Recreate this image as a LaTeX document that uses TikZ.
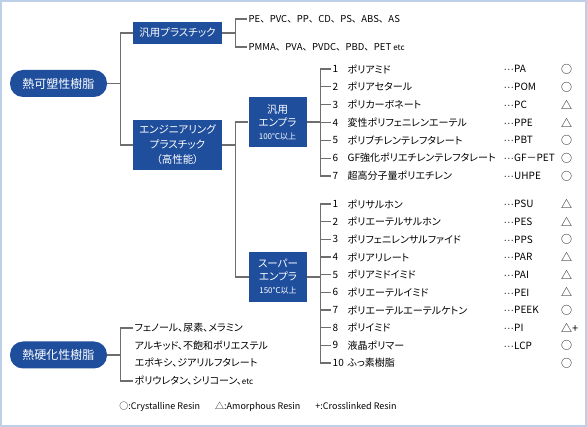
\documentclass[tikz,border=0pt]{standalone}
\usepackage{fontspec}
\setmainfont{Noto Sans CJK JP}[RawFeature=+palt]
\newfontfamily\fullw{Noto Sans CJK JP}
\usetikzlibrary{positioning}
\definecolor{boxblue}{RGB}{31,78,157}
\definecolor{linegray}{RGB}{110,110,110}
\definecolor{frameblue}{RGB}{190,208,232}
\tikzset{
  rootbox/.style={fill=boxblue, text=white, rounded corners=13pt, minimum width=97pt, minimum height=27pt, inner sep=0pt, font=\fontsize{12}{13}\selectfont},
  catbox/.style={fill=boxblue, text=white, minimum width=89pt, inner sep=0pt, align=center, font=\fontsize{10.5}{15}\selectfont},
  epbox/.style={fill=boxblue, text=white, minimum width=58pt, minimum height=50pt, inner sep=0pt, align=center, font=\fontsize{10.5}{13}\selectfont},
  leaf/.style={anchor=west, inner sep=1.5pt, font=\fontsize{10}{11}\selectfont},
  symb/.style={anchor=west, inner sep=0pt, font=\fontsize{11}{11}\selectfont},
  conn/.style={draw=linegray, line width=1.2pt},
}
\newcommand{\smalltxt}[1]{{\fontsize{8}{9}\selectfont #1}}
\newcommand{\ldr}{{\fontsize{7}{8}\selectfont ･･･}}

\begin{document}
\begin{tikzpicture}[x=1pt, y=-1pt]
  \useasboundingbox (0,0) rectangle (587,427);
  \draw[frameblue, line width=2pt] (1,1) rectangle (586,426);

  \node[rootbox] (thermo) at (58.5,83.5) {熱可塑性樹脂};
  \node[catbox, minimum height=22pt] (general) at (177.5,33) {汎用プラスチック};
  \node[catbox, minimum height=50pt] (eng) at (177.5,145) {エンジニアリング\\プラスチック\\（高性能）};
  \node[epbox] (genep) at (277.5,122) {汎用\\エンプラ\\\smalltxt{100℃以上}};
  \node[epbox] (superep) at (278,277) {スーパー\\エンプラ\\\smalltxt{150℃以上}};
  \node[rootbox] (thermoset) at (58.5,355) {熱硬化性樹脂};

  \draw[conn] (thermo.east) -- ++(13,0) coordinate (tfork);
  \draw[conn] (general.west) -| (tfork) |- (eng.west);
  \draw[conn] (eng.east) -- ++(13,0) coordinate (efork);
  \draw[conn] (genep.west) -| (efork) |- (superep.west);

  \node[leaf, font=\fullw\fontsize{9.5}{11}\selectfont] (gp1) at (247,19) {PE、PVC、PP、CD、PS、ABS、AS};
  \node[leaf, font=\fullw\fontsize{9.5}{11}\selectfont] (gp2) at (247,47) {PMMA、PVA、PVDC、PBD、PET \smalltxt{etc}};
  \draw[conn] (general.east) -- ++(13,0) coordinate (gpfork);
  \draw[conn] (gp1.west) -| (gpfork) |- (gp2.west);

  \foreach \n/\name/\abbr/\mk in {
    1/ポリアミド/PA/○, 2/ポリアセタール/POM/○, 3/ポリカーボネート/PC/△,
    4/変性ポリフェニレンエーテル/PPE/△, 5/ポリブチレンテレフタレート/PBT/○,
    6/GF強化ポリエチレンテレフタレート/GF－PET/○, 7/超高分子量ポリエチレン/UHPE/○} {
    \pgfmathsetmacro\yy{69+(\n-1)*17.83}
    \node[leaf] (ge\n) at (331,\yy) {\n};
    \node[leaf] (gename\n) at (346,\yy) {\name};
    \node[leaf] (geabbr\n) at (502,\yy) {\ldr\abbr};
    \node[symb] (gemk\n) at (561,\yy) {\mk};
  }
  \draw[conn] (genep.east) -- ++(14,0) coordinate (gfork);
  \draw[conn] (ge1.west) -| (gfork) |- (ge7.west);
  \foreach \n in {2,...,6}
    \draw[conn] (gfork |- ge\n.west) -- (ge\n.west);

  \foreach \n/\name/\abbr/\mk in {
    1/ポリサルホン/\ldr PSU/△, 2/ポリエーテルサルホン/\ldr PES/△, 3/ポリフェニレンサルファイド/\ldr PPS/○,
    4/ポリアリレート/\ldr PAR/△, 5/ポリアミドイミド/\ldr PAI/△, 6/ポリエーテルイミド/\ldr PEI/△,
    7/ポリエーテルエーテルケトン/\ldr PEEK/○, 8/ポリイミド/\ldr PI/△+, 9/液晶ポリマー/\ldr LCP/○,
    10/ふっ素樹脂/{}/○} {
    \pgfmathsetmacro\yy{204+(\n-1)*17.67}
    \node[leaf] (se\n) at (331,\yy) {\n};
    \node[leaf] (sename\n) at (346,\yy) {\name};
    \node[leaf] (seabbr\n) at (502,\yy) {\abbr};
    \node[symb] (semk\n) at (561,\yy) {\mk};
  }
  \draw[conn] (superep.east) -- ++(13,0) coordinate (sfork);
  \draw[conn] (se1.west) -| (sfork) |- (se10.west);
  \foreach \n in {2,...,9}
    \draw[conn] (sfork |- se\n.west) -- (se\n.west);

  \node[leaf] (ts1) at (133,328) {フェノール、尿素、メラミン};
  \node[leaf] (ts2) at (133,345.5) {アルキッド、不飽和ポリエステル};
  \node[leaf] (ts3) at (133,363) {エポキシ、ジアリルフタレート};
  \node[leaf] (ts4) at (133,381) {ポリウレタン、シリコーン、\smalltxt{etc}};
  \draw[conn] (thermoset.east) -- ++(13,0) coordinate (tsfork);
  \draw[conn] (ts1.west) -| (tsfork) |- (ts4.west);

  \node[font=\fontsize{9}{10}\selectfont, inner sep=0pt] (legend) at (258,407)
    {○:Crystalline Resin\hspace{15pt}△:Amorphous Resin\hspace{15pt}+:Crosslinked Resin};
\end{tikzpicture}
\end{document}
